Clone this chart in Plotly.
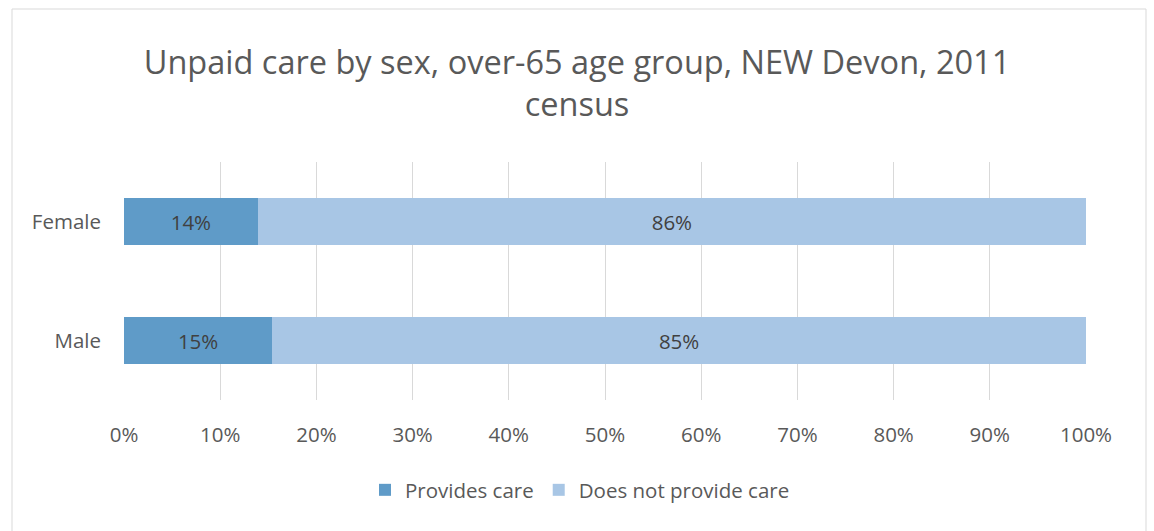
import plotly.graph_objects as go

# Share of over-65s providing unpaid care, by sex (percent)
categories = ["Male", "Female"]
provides_care = [15.4, 13.9]
no_care = [84.6, 86.1]
x_ticks = [0, 10, 20, 30, 40, 50, 60, 70, 80, 90, 100]
x_tick_labels = [f"{v}%" for v in x_ticks]

FONT = "Open Sans"
GREY = "#595959"
FS = 20.5

fig = go.Figure()
fig.add_trace(go.Bar(
    y=categories, x=provides_care, name="Provides care", orientation="h",
    marker=dict(color="#5F9BC8", line=dict(width=0)),
    texttemplate="%{x:.0f}%", textposition="inside", insidetextanchor="middle",
    textfont=dict(color="#404040", size=FS, family=FONT),
))
fig.add_trace(go.Bar(
    y=categories, x=no_care, name="Does not provide care", orientation="h",
    marker=dict(color="#A8C6E5", line=dict(width=0)),
    texttemplate="%{x:.0f}%", textposition="inside", insidetextanchor="middle",
    textfont=dict(color="#404040", size=FS, family=FONT),
))

L, R, T, B = 124, 68, 162, 131
W, H = 1154, 531
pw, ph = W - L - R, H - T - B

def px_x(x):
    return (x - L) / pw

def px_y(y):
    return (H - B - y) / ph

fig.update_layout(
    width=W, height=H, barmode="stack", bargap=0.605,
    margin=dict(l=L, r=R, t=T, b=B),
    paper_bgcolor="white", plot_bgcolor="white",
    font=dict(family=FONT, color=GREY, size=FS),
    title=dict(
        text="Unpaid care by sex, over-65 age group, NEW Devon, 2011<br>census",
        x=0.5, xref="container", xanchor="center",
        y=1 - 74 / H, yref="container", yanchor="middle",
        font=dict(size=32.5, color=GREY, family=FONT),
    ),
    xaxis=dict(
        range=[0, 100], tickvals=x_ticks, ticktext=x_tick_labels,
        showgrid=True, gridcolor="#D9D9D9", gridwidth=1,
        zeroline=False, showline=False, ticks="",
        ticklabelstandoff=20, tickfont=dict(size=FS, color=GREY),
    ),
    yaxis=dict(
        showgrid=False, zeroline=False, showline=False, ticks="",
        ticklabelstandoff=22, tickfont=dict(size=FS, color=GREY),
    ),
    legend=dict(
        orientation="h", x=px_x(580), xanchor="center",
        y=px_y(490), yanchor="middle", itemwidth=30,
        font=dict(size=FS, color=GREY), traceorder="normal",
    ),
    showlegend=True,
    shapes=[dict(
        type="rect", xref="paper", yref="paper",
        x0=px_x(12), x1=px_x(1146), y0=px_y(545), y1=px_y(9),
        line=dict(color="#D9D9D9", width=1), fillcolor="rgba(0,0,0,0)",
        layer="below",
    )],
)

fig.write_html("out.html")
